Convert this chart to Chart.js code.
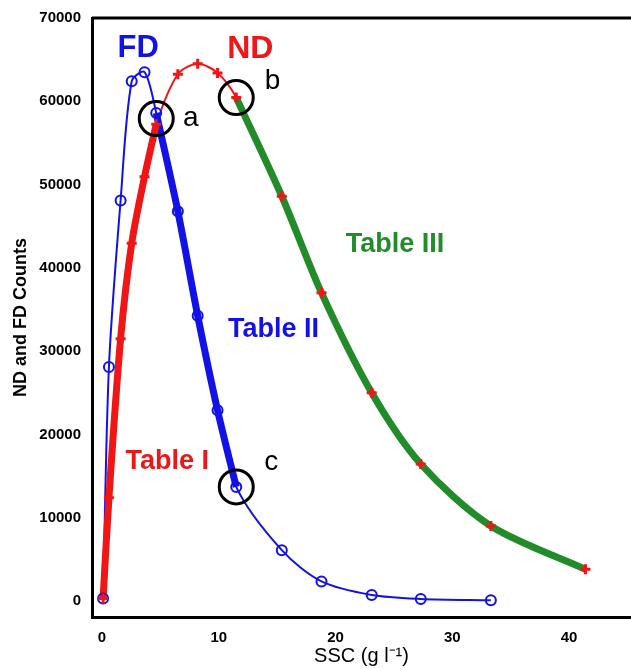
<!DOCTYPE html>
<html>
<head>
<meta charset="utf-8">
<script src="https://cdn.jsdelivr.net/npm/chart.js@4"></script>
<style>
  html, body { margin: 0; padding: 0; background: #fff; overflow: hidden; }
  canvas { display: block; }
</style>
</head>
<body>
<canvas id="myChart" width="631" height="669"></canvas>
<script>
// SSC (g l-1) sample values, shared by both counters
const ssc = [0.1, 0.6, 1.6, 2.55, 3.65, 4.65, 6.5, 8.2, 9.9, 11.5, 15.4, 18.8, 23.1, 27.3, 33.3, 41.4];
const fdCounts = [300, 28100, 48100, 62400, 63500, 58600, 46800, 34250, 22900, 13700, 6100, 2350, 720, 250, 80];
const ndCounts = [300, 12400, 31500, 42950, 50950, 57240, 63250, 64500, 63400, 60440, 48600, 37000, 25000, 16450, 9000, 3800];
const xTicks = [0, 10, 20, 30, 40];
const yTicks = [0, 10000, 20000, 30000, 40000, 50000, 60000, 70000];

// index ranges of the highlighted parts
const tableI = [0, 5];    // ND, red
const tableII = [5, 9];   // FD, blue
const tableIII = [9, 15]; // ND, green

const BLUE = '#1212e8';
const RED = '#f01616';
const GREEN = '#228b2a';

const pts = (ys, from, to) => ys.slice(from, to + 1).map((y, i) => ({x: ssc[from + i], y: y}));

// circled points a, b, c
const circles = [
  {x: ssc[5], y: (fdCounts[5] + ndCounts[5]) / 2},
  {x: ssc[9], y: ndCounts[9]},
  {x: ssc[9], y: fdCounts[9]}
];

const notes = [
  {text: 'FD', x: 3.1, y: 66400, color: BLUE, font: 'bold 31px "Liberation Sans", Arial, sans-serif'},
  {text: 'ND', x: 12.7, y: 66300, color: RED, font: 'bold 32px "Liberation Sans", Arial, sans-serif'},
  {text: 'a', x: 7.6, y: 58000, color: '#000', font: '28px "Liberation Sans", Arial, sans-serif'},
  {text: 'b', x: 14.6, y: 62400, color: '#000', font: '28px "Liberation Sans", Arial, sans-serif'},
  {text: 'c', x: 14.5, y: 16600, color: '#000', font: '28px "Liberation Sans", Arial, sans-serif'},
  {text: 'Table I', x: 5.6, y: 16700, color: RED, font: 'bold 27px "Liberation Sans", Arial, sans-serif'},
  {text: 'Table II', x: 14.7, y: 32600, color: BLUE, font: 'bold 27px "Liberation Sans", Arial, sans-serif'},
  {text: 'Table III', x: 25.1, y: 42800, color: GREEN, font: 'bold 27px "Liberation Sans", Arial, sans-serif'}
];

const notesPlugin = {
  id: 'notes',
  afterDatasetsDraw(chart) {
    const {ctx, chartArea, scales} = chart;
    ctx.save();
    // top frame line
    ctx.strokeStyle = '#000';
    ctx.lineWidth = 3;
    ctx.beginPath();
    ctx.moveTo(chartArea.left, chartArea.top);
    ctx.lineTo(chartArea.right, chartArea.top);
    ctx.stroke();
    ctx.textAlign = 'center';
    ctx.textBaseline = 'middle';
    notes.forEach(n => {
      ctx.font = n.font;
      ctx.fillStyle = n.color;
      ctx.fillText(n.text, scales.x.getPixelForValue(n.x), scales.y.getPixelForValue(n.y));
    });
    ctx.restore();
  }
};

const tickFont = {family: '"Liberation Sans Narrow", "Liberation Sans", Arial, sans-serif', size: 15, weight: 'bold'};

const ctx = document.getElementById('myChart');

const myChart = new Chart(ctx, {
  type: 'scatter',
  data: {
    datasets: [
      // thin full curves
      {data: pts(fdCounts, 0, fdCounts.length - 1), showLine: true, borderColor: BLUE, borderWidth: 2, pointRadius: 0, tension: 0.3, order: 5},
      {data: pts(ndCounts, 0, ndCounts.length - 1), showLine: true, borderColor: RED, borderWidth: 2, pointRadius: 0, tension: 0.3, order: 5},
      // thick highlighted parts
      {data: pts(ndCounts, tableI[0], tableI[1]), showLine: true, borderColor: RED, borderWidth: 7, pointRadius: 0, tension: 0.3, order: 4},
      {data: pts(fdCounts, tableII[0], tableII[1]), showLine: true, borderColor: BLUE, borderWidth: 7, pointRadius: 0, tension: 0.3, order: 4},
      {data: pts(ndCounts, tableIII[0], tableIII[1]), showLine: true, borderColor: GREEN, borderWidth: 7, pointRadius: 0, tension: 0.3, order: 4},
      // markers
      {data: pts(fdCounts, 0, fdCounts.length - 1), pointStyle: 'circle', pointRadius: 5, borderColor: BLUE, backgroundColor: 'rgba(0,0,0,0)', borderWidth: 2, order: 2},
      {data: pts(ndCounts, 0, ndCounts.length - 1), pointStyle: 'cross', pointRadius: 5, borderColor: RED, borderWidth: 3, order: 1},
      {data: circles, pointStyle: 'circle', pointRadius: 17, borderColor: '#000', backgroundColor: 'rgba(0,0,0,0)', borderWidth: 3, order: 3}
    ]
  },
  options: {
    responsive: false,
    animation: false,
    devicePixelRatio: 1,
    layout: {autoPadding: false, padding: {top: 18, right: 0, left: 0, bottom: 0}},
    plugins: {
      legend: {display: false},
      tooltip: {enabled: false}
    },
    scales: {
      x: {
        type: 'linear',
        min: -0.85,
        max: 45.3,
        afterBuildTicks: s => { s.ticks = xTicks.map(v => ({value: v})); },
        afterFit: s => { s.height = 52; s.paddingLeft = 0; s.paddingRight = 0; },
        grid: {display: false},
        border: {display: true, color: '#000', width: 3},
        ticks: {color: '#000', font: tickFont, padding: 4, maxRotation: 0},
        title: {display: true, text: 'SSC (g l⁻¹)', color: '#000', font: {family: '"Liberation Sans", Arial, sans-serif', size: 20}, padding: {top: 0, bottom: 1}}
      },
      y: {
        type: 'linear',
        min: -1920,
        max: 70000,
        afterBuildTicks: s => { s.ticks = yTicks.map(v => ({value: v})); },
        afterFit: s => { s.width = 92; },
        grid: {display: false},
        border: {display: true, color: '#000', width: 3},
        ticks: {color: '#000', font: tickFont, padding: 3, callback: v => String(v)},
        title: {display: true, text: 'ND and FD Counts', color: '#000', font: {family: '"Liberation Sans", Arial, sans-serif', size: 18, weight: 'bold'}, padding: {top: 10, bottom: 0}}
      }
    }
  },
  plugins: [notesPlugin]
});
</script>
</body>
</html>
